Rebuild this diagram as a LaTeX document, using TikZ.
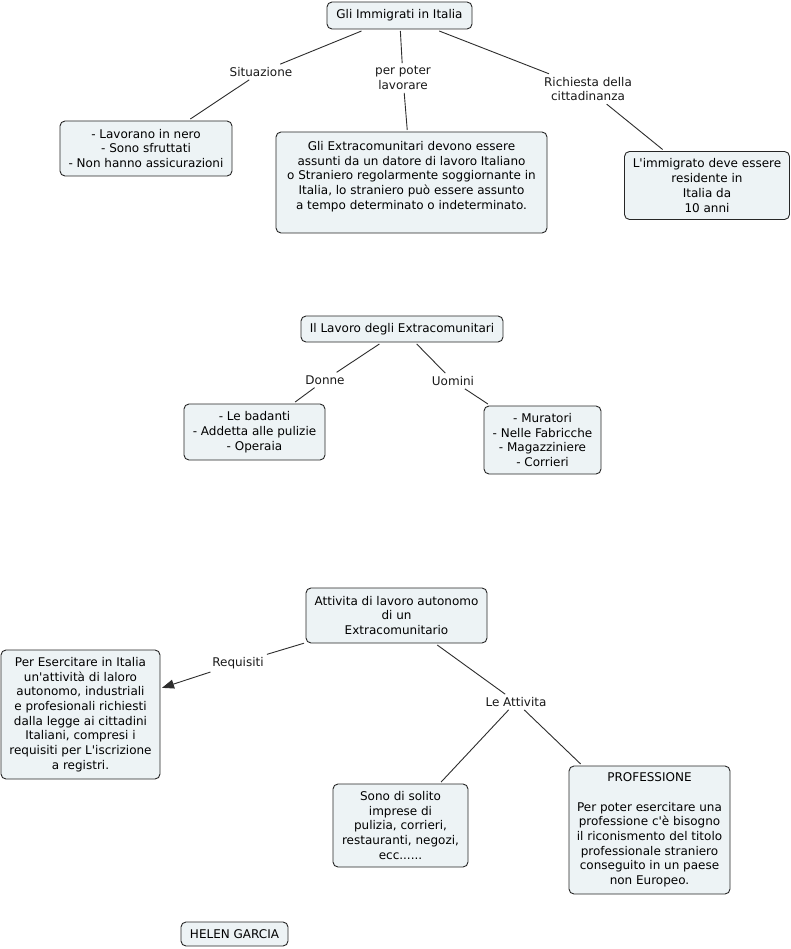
\documentclass[tikz,border=0pt]{standalone}
\usepackage{fontspec}
\newfontfamily\vfont{DejaVu Sans}
\usetikzlibrary{arrows.meta}
\definecolor{boxfill}{RGB}{237,243,245}
\definecolor{edgecol}{RGB}{45,45,45}
\newcommand{\dfont}{\vfont\fontsize{12}{14.7}\selectfont}
\begin{document}
\begin{tikzpicture}[x=1pt,y=-1pt,
  box/.style={draw=black!85, fill=boxfill, rounded corners=5pt, align=center, font=\dfont, inner sep=0pt, outer sep=2pt, line width=0.9pt},
  lab/.style={align=center, font=\dfont, inner sep=3pt, text=black!90},
  conn/.style={draw=edgecol, line width=0.9pt}]
\useasboundingbox[fill=white] (0,0) rectangle (791,949);

% group 1
\node[box, minimum width=145, minimum height=27] (top) at (399.5,15.5) {Gli Immigrati in Italia};
\node[lab] (sit) at (261,72) {Situazione};
\node[lab] (per) at (403,78) {per poter\\ lavorare};
\node[lab] (ric) at (588,89) {Richiesta della\\cittadinanza};
\node[box, minimum width=172, minimum height=55] (sitbox) at (146,148.5) {- Lavorano in nero\\- Sono sfruttati\\- Non hanno assicurazioni};
\node[box, minimum width=271, minimum height=101] (perbox) at (411.5,182.5) {Gli Extracomunitari devono essere\\assunti da un datore di lavoro Italiano\\o Straniero regolarmente soggiornante in\\Italia, lo straniero può essere assunto\\a tempo determinato o indeterminato.\\\mbox{}};
\node[box, minimum width=165, minimum height=68] (ricbox) at (707,185.5) {L\textquotesingle immigrato deve essere\\residente in\\Italia da\\10 anni};

\draw[conn] (top) -- (sit);
\draw[conn] (sit) -- (sitbox);
\draw[conn] (top) -- (per);
\draw[conn] (per) -- (perbox);
\draw[conn] (top) -- (ric);
\draw[conn] (ric) -- (ricbox);

% group 2
\node[box, minimum width=202, minimum height=26] (lav) at (402,329) {Il Lavoro degli Extracomunitari};
\node[lab] (don) at (325,380) {Donne};
\node[lab] (uom) at (453,381) {Uomini};
\node[box, minimum width=141, minimum height=56] (donbox) at (254.5,432) {- Le badanti\\- Addetta alle pulizie\\- Operaia};
\node[box, minimum width=117, minimum height=68] (uombox) at (542.5,440) {- Muratori\\- Nelle Fabricche\\- Magazziniere\\- Corrieri};

\draw[conn] (lav) -- (don);
\draw[conn] (don) -- (donbox);
\draw[conn] (lav) -- (uom);
\draw[conn] (uom) -- (uombox);

% group 3
\node[box, minimum width=181, minimum height=55] (att) at (396.5,615.5) {Attivita di lavoro autonomo\\di un\\Extracomunitario};
\node[lab] (req) at (238,663) {Requisiti};
\node[box, minimum width=159, minimum height=129] (reqbox) at (80.5,714.5) {Per Esercitare in Italia\\un\textquotesingle attività di laloro\\autonomo, industriali\\e profesionali richiesti\\dalla legge ai cittadini\\Italiani, compresi i\\requisiti per L\textquotesingle iscrizione\\a registri.};
\node[lab] (lea) at (516,702) {Le Attivita};
\node[box, minimum width=135, minimum height=83] (solbox) at (400.5,825.5) {Sono di solito\\imprese di\\pulizia, corrieri,\\restauranti, negozi,\\ecc......};
\node[box, minimum width=161, minimum height=128] (probox) at (649.5,830) {PROFESSIONE\\\mbox{}\\Per poter esercitare una\\professione c\textquotesingle è bisogno\\il riconismento del titolo\\professionale straniero\\conseguito in un paese\\non Europeo.};

\draw[conn] (att) -- (req);
\draw[conn, -{Triangle[length=12pt,width=9pt]}] (req) -- (reqbox);
\draw[conn] (att) -- (lea);
\draw[conn] (lea) -- (solbox);
\draw[conn] (lea) -- (probox);

\node[box, minimum width=107, minimum height=24] (helen) at (234.5,934) {HELEN GARCIA};
\end{tikzpicture}
\end{document}
